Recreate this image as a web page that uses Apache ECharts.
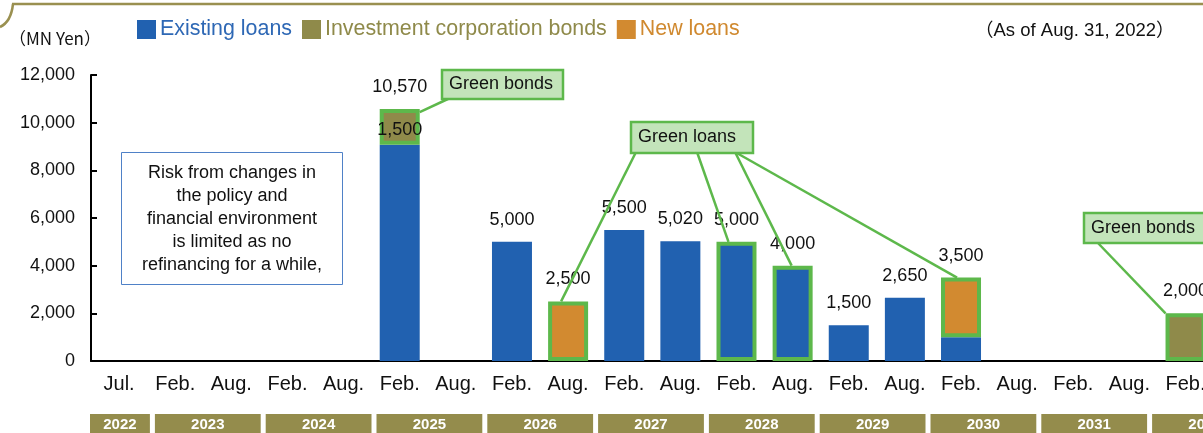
<!DOCTYPE html>
<html>
<head>
<meta charset="utf-8">
<script src="https://cdn.jsdelivr.net/npm/echarts@6/dist/echarts.min.js"></script>
<style>
  html, body { margin: 0; padding: 0; background: #fff; overflow: hidden; }
  /* wider than the window: the last column is cut at the right edge */
  #main { width: 1215px; height: 433px; }
</style>
</head>
<body>
<div id="main"></div>
<script>
// half-year repayment dates
const categories = ['Jul.', 'Feb.', 'Aug.', 'Feb.', 'Aug.', 'Feb.', 'Aug.', 'Feb.', 'Aug.', 'Feb.',
                    'Aug.', 'Feb.', 'Aug.', 'Feb.', 'Aug.', 'Feb.', 'Aug.', 'Feb.', 'Aug.', 'Feb.'];
// MN Yen
const existingLoans = [null, null, null, null, null, 9070, null, 5000, null, 5500,
                       5020, 5000, 4000, 1500, 2650, 1000, null, null, null, null];
const corpBonds     = [null, null, null, null, null, 1500, null, null, null, null,
                       null, null, null, null, null, null, null, null, null, 2000];
const newLoans      = [null, null, null, null, null, null, null, null, 2500, null,
                       null, null, null, null, null, 2500, null, null, null, null];
// which bars are green finance (outlined)
const greenExisting = [11, 12];
const greenBonds = [5, 19];
const greenNew = [8, 15];

// year band: first and last category of each year
const years = ['2022', '2023', '2024', '2025', '2026', '2027', '2028', '2029', '2030', '2031', '2032'];
const yearFrom = [0, 1, 3, 5, 7, 9, 11, 13, 15, 17, 19];
const yearTo   = [1, 3, 5, 7, 9, 11, 13, 15, 17, 19, 21];

const yTicks = [0, 2000, 4000, 6000, 8000, 10000, 12000];

const BLUE = '#2161b0', OLIVE = '#8f8a4a', ORANGE = '#d28a30';
const GREEN = '#5db84b', LIGHTGREEN = '#c3e4ba';
const FONT = '"Liberation Sans", Arial, sans-serif';

const totals = categories.map((c, i) =>
  (existingLoans[i] || 0) + (corpBonds[i] || 0) + (newLoans[i] || 0));

const fmt = v => Number(v).toLocaleString('en-US');

function withGreen(values, green) {
  return values.map((v, i) => {
    if (v == null) return null;
    if (green.indexOf(i) < 0) return v;
    return { value: v, itemStyle: { borderColor: GREEN, borderWidth: 4 } };
  });
}

const bondsData = withGreen(corpBonds, greenBonds);
// 1,500 of the 2025 bar is written inside the segment
bondsData[5].label = { show: true, position: 'inside', offset: [0, 3], formatter: p => fmt(p.value), fontSize: 18, color: '#111' };

const option = {
  animation: false,
  textStyle: { fontFamily: FONT },
  legend: {
    left: 132, top: 14, icon: 'rect', itemWidth: 19, itemHeight: 19, itemGap: 10,
    selectedMode: false,
    textStyle: { fontSize: 21.4, fontFamily: FONT, padding: [0, 0, 0, -1] },
    data: [
      { name: 'Existing loans', textStyle: { color: '#2e68b5' } },
      { name: 'Investment corporation bonds', textStyle: { color: '#8f8a4a' } },
      { name: 'New loans', textStyle: { color: '#d0892f' } }
    ]
  },
  grid: [
    { left: 91, top: 75, right: 1.4, bottom: 72, outerBoundsMode: 'none' },
    { left: 97, top: 414, width: 1108, height: 19, outerBoundsMode: 'none' }
  ],
  xAxis: [
    {
      type: 'category', data: categories, gridIndex: 0,
      axisLine: { lineStyle: { color: '#000', width: 2 } },
      axisTick: { inside: true, length: 6, lineStyle: { color: '#000', width: 2 } },
      axisLabel: { fontSize: 20, color: '#111', margin: 13, interval: 0 }
    },
    { type: 'value', gridIndex: 1, min: 0, max: 20, show: false }
  ],
  yAxis: [
    {
      type: 'value', gridIndex: 0, min: yTicks[0], max: yTicks[yTicks.length - 1], interval: 2000,
      axisLine: { show: true, lineStyle: { color: '#000', width: 2 } },
      axisTick: { show: true, inside: true, length: 6, lineStyle: { color: '#000', width: 2 } },
      splitLine: { show: false },
      axisLabel: { fontSize: 18, color: '#111', margin: 16, formatter: v => fmt(v) }
    },
    { type: 'value', gridIndex: 1, min: 0, max: 1, show: false }
  ],
  series: [
    {
      name: 'Existing loans', type: 'bar', stack: 'debt', barWidth: 40,
      itemStyle: { color: BLUE }, data: withGreen(existingLoans, greenExisting)
    },
    {
      name: 'Investment corporation bonds', type: 'bar', stack: 'debt', barWidth: 40,
      itemStyle: { color: OLIVE }, data: bondsData
    },
    {
      name: 'New loans', type: 'bar', stack: 'debt', barWidth: 40,
      itemStyle: { color: ORANGE }, data: withGreen(newLoans, greenNew)
    },
    {
      // invisible bar carrying the total on top
      name: 'total', type: 'bar', barWidth: 40, barGap: '-100%', silent: true, z: 1,
      itemStyle: { color: 'rgba(0,0,0,0)' },
      label: { show: true, position: 'top', distance: 13, fontSize: 18, color: '#111', formatter: p => fmt(p.value) },
      data: totals.map(t => (t > 0 ? t : null))
    },
    {
      name: 'years', type: 'custom', xAxisIndex: 1, yAxisIndex: 1, silent: true,
      data: years.map((y, i) => [yearFrom[i], yearTo[i]]),
      renderItem: function (params, api) {
        const a = api.coord([api.value(0), 0]);
        const b = api.coord([api.value(1), 1]);
        // the first (half) year starts right at the axis origin
        const x0 = api.value(0) === 0 ? params.coordSys.x - 7 : a[0] + 2.5;
        return {
          type: 'group',
          children: [
            { type: 'rect', shape: { x: x0, y: b[1], width: b[0] - 2.5 - x0, height: a[1] - b[1] + 4 },
              style: { fill: '#948c4c' } },
            { type: 'text', style: { text: years[params.dataIndex], x: (x0 + b[0] - 2.5) / 2, y: b[1] + 11,
                align: 'center', verticalAlign: 'middle', fill: '#fff', font: 'bold 15px ' + FONT } }
          ]
        };
      }
    }
  ]
};

const chart = echarts.init(document.getElementById('main'));
chart.setOption(option);

// callouts (box layout in pixels, leaders end on the bars)
const calloutText = ['Green bonds', 'Green loans', 'Green bonds'];
const calloutBox = [[442, 70, 121, 29], [631, 122, 122, 31], [1084, 213, 130, 30]];
const leaders = [
  { from: [450, 98], cat: 5, val: totals[5], dx: 20, dy: 3 },
  { from: [636, 152], cat: 8, val: totals[8], dx: -7, dy: 0 },
  { from: [697, 152], cat: 11, val: totals[11], dx: -8, dy: 0 },
  { from: [735, 152], cat: 12, val: totals[12], dx: -1, dy: 0 },
  { from: [735, 152], cat: 15, val: totals[15], dx: -4, dy: 0 },
  { from: [1097, 242], cat: 19, val: totals[19], dx: -20, dy: 0 }
];

const graphics = [];
// top frame with its rounded corner
graphics.push({
  type: 'line', z: 20, silent: true,
  shape: { x1: 12, y1: 4, x2: 1215, y2: 4 },
  style: { stroke: '#9a9050', lineWidth: 2.5 }
});
graphics.push({
  type: 'bezierCurve', z: 20, silent: true,
  shape: { x1: 13, y1: 4, cpx1: 11, cpy1: 22, x2: 0, y2: 27 },
  style: { stroke: '#9a9050', lineWidth: 2.5, fill: null }
});
graphics.push({
  type: 'text', left: 9, top: 30, z: 20,
  style: { text: '（MN Yen）', font: '17px "Noto Sans CJK JP"', fill: '#111' }
});
graphics.push({
  type: 'text', left: 975, top: 22, z: 20,
  style: { text: '（As of Aug. 31, 2022）', font: '18.5px "Liberation Sans", "Noto Sans CJK JP"', fill: '#111' }
});
// note box
graphics.push({
  type: 'rect', z: 20, shape: { x: 121.5, y: 152.5, width: 221, height: 132 },
  style: { fill: '#fff', stroke: '#4f81c7', lineWidth: 1 }
});
graphics.push({
  type: 'text', z: 21, x: 232, y: 162,
  style: {
    text: 'Risk from changes in\nthe policy and\nfinancial environment\nis limited as no\nrefinancing for a while,',
    font: '18px ' + FONT, fill: '#111', align: 'center', verticalAlign: 'top', lineHeight: 22.8
  }
});
leaders.forEach(l => {
  const p = chart.convertToPixel({ gridIndex: 0 }, [l.cat, l.val]);
  graphics.push({
    type: 'line', z: 20, silent: true,
    shape: { x1: l.from[0], y1: l.from[1], x2: p[0] + l.dx, y2: p[1] + l.dy },
    style: { stroke: GREEN, lineWidth: 2.5 }
  });
});
calloutBox.forEach((b, i) => {
  graphics.push({
    type: 'rect', z: 22, shape: { x: b[0], y: b[1], width: b[2], height: b[3] },
    style: { fill: LIGHTGREEN, stroke: GREEN, lineWidth: 2.5 }
  });
  graphics.push({
    type: 'text', z: 23, x: b[0] + 7, y: b[1] + b[3] / 2,
    style: { text: calloutText[i], font: '18px ' + FONT, fill: '#111', verticalAlign: 'middle' }
  });
});
chart.setOption({ graphic: graphics });
</script>
</body>
</html>
